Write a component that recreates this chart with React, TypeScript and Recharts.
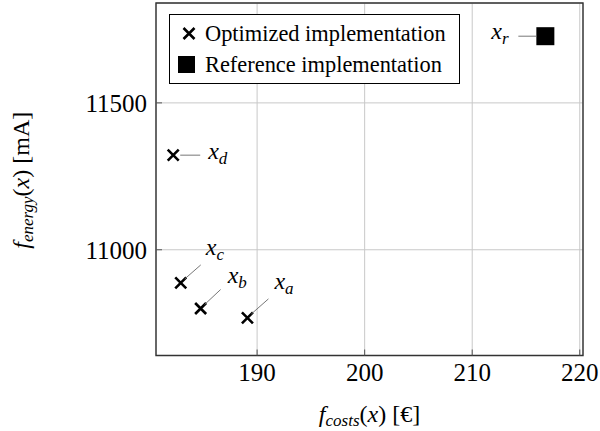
import { CartesianGrid, Legend, ReferenceArea, Scatter, ScatterChart, XAxis, YAxis } from 'recharts'

const optimizedNames = ['a', 'b', 'c', 'd']
const optimizedCosts = [189.1, 184.75, 182.9, 182.2]
const optimizedEnergy = [10768, 10800, 10887, 11322]

const referenceNames = ['r']
const referenceCosts = [216.8]
const referenceEnergy = [11727]

const xTicks = [190, 200, 210, 220]
const yTicks = [11000, 11500]
const xDomain = [180.6, 220.3]
const yDomain = [10640, 11840]

const optimized = optimizedNames.map((name, i) => ({ name, cost: optimizedCosts[i], energy: optimizedEnergy[i] }))
const reference = referenceNames.map((name, i) => ({ name, cost: referenceCosts[i], energy: referenceEnergy[i] }))

// annotation placement relative to the marker (pin line start, pin line end, text anchor)
const pins: Record<string, { l: [number, number, number, number]; t: [number, number] }> = {
  a: { l: [4, -4, 21, -19], t: [27, -29] },
  b: { l: [4, -4, 20, -19], t: [27, -26] },
  c: { l: [4, -4, 20, -18], t: [25, -28] },
  d: { l: [7, 0, 27, 0], t: [35, 4] },
  r: { l: [-9, 0, -27, 0], t: [-54, 3] }
}

const serif = 'Liberation Serif, Times New Roman, Tinos, DejaVu Serif, serif'
const tickStroke = '#555'

function Pin({ cx, cy, name }: { cx: number; cy: number; name: string }) {
  const p = pins[name]
  if (!p) return null
  return (
    <g>
      <line x1={cx + p.l[0]} y1={cy + p.l[1]} x2={cx + p.l[2]} y2={cy + p.l[3]} stroke="#777" strokeWidth={1} />
      <text x={cx + p.t[0]} y={cy + p.t[1]} style={{ fontFamily: serif }} fontSize={24} fill="#000">
        <tspan fontStyle="italic">x</tspan>
        <tspan fontStyle="italic" fontSize={17} dy={5}>{name}</tspan>
      </text>
    </g>
  )
}

function Cross(props: any) {
  const { cx, cy, payload } = props
  const s = 5.5
  return (
    <g>
      <path d={`M${cx - s},${cy - s}L${cx + s},${cy + s}M${cx - s},${cy + s}L${cx + s},${cy - s}`} stroke="#000" strokeWidth={2.6} />
      <Pin cx={cx} cy={cy} name={payload.name} />
    </g>
  )
}

function Square(props: any) {
  const { cx, cy, payload } = props
  const s = 9
  return (
    <g>
      <rect x={cx - s} y={cy - s} width={2 * s} height={2 * s} fill="#000" />
      <Pin cx={cx} cy={cy} name={payload.name} />
    </g>
  )
}

function LegendBox() {
  return (
    <div style={{ border: '1px solid #000', background: '#fff', width: 291, height: 70, boxSizing: 'border-box', fontFamily: serif, fontSize: 22.4, padding: '3px 0 0 6px', lineHeight: '31px', textAlign: 'left', whiteSpace: 'nowrap' }}>
      <div style={{ display: 'flex', alignItems: 'center' }}>
        <svg width={29} height={31}>
          <path d="M7.5,10L18.5,21M7.5,21L18.5,10" stroke="#000" strokeWidth={2.6} />
        </svg>
        <span>Optimized implementation</span>
      </div>
      <div style={{ display: 'flex', alignItems: 'center' }}>
        <svg width={29} height={31}>
          <rect x={2} y={7} width={17} height={17} fill="#000" />
        </svg>
        <span>Reference implementation</span>
      </div>
    </div>
  )
}

function YLabel(props: any) {
  const { viewBox } = props
  const cy = viewBox.y + viewBox.height / 2 + 1
  return (
    <text transform={`translate(29,${cy}) rotate(-90)`} textAnchor="middle" style={{ fontFamily: serif }} fontSize={24} fill="#000">
      <tspan fontStyle="italic">f</tspan>
      <tspan fontStyle="italic" fontSize={17} dy={4}>energy</tspan>
      <tspan dy={-4}>(</tspan>
      <tspan fontStyle="italic">x</tspan>
      <tspan>) [mA]</tspan>
    </text>
  )
}

function XLabel(props: any) {
  const { viewBox } = props
  const cx = viewBox.x + viewBox.width / 2
  return (
    <text x={cx} y={422} textAnchor="middle" style={{ fontFamily: serif }} fontSize={24} fill="#000">
      <tspan fontStyle="italic">f</tspan>
      <tspan fontStyle="italic" fontSize={17} dy={4}>costs</tspan>
      <tspan dy={-4}>(</tspan>
      <tspan fontStyle="italic">x</tspan>
      <tspan>) [€]</tspan>
    </text>
  )
}

const noLabel = () => ''

export default function App() {
  return (
    <div style={{ position: 'absolute', left: 0, top: 0, background: '#fff', fontFamily: serif }}>
      <ScatterChart width={600} height={431} margin={{ top: 3, right: 17, bottom: 0, left: 0 }} style={{ fontFamily: serif }}>
        <CartesianGrid stroke="#c8c8c8" strokeWidth={1} />
        <XAxis
          type="number"
          dataKey="cost"
          domain={xDomain}
          ticks={xTicks}
          allowDataOverflow
          height={75.5}
          axisLine={false}
          tickSize={-6}
          tickMargin={14}
          tickLine={{ stroke: tickStroke }}
          tick={{ fontSize: 25, fill: '#000', dy: 0, style: { fontFamily: serif } }}
          label={<XLabel />}
        />
        <XAxis
          xAxisId="top"
          orientation="top"
          type="number"
          dataKey="cost"
          domain={xDomain}
          ticks={xTicks}
          allowDataOverflow
          height={0}
          axisLine={false}
          tickSize={-6}
          tickLine={{ stroke: tickStroke }}
          tickFormatter={noLabel}
        />
        <YAxis
          type="number"
          dataKey="energy"
          domain={yDomain}
          ticks={yTicks}
          allowDataOverflow
          width={156}
          axisLine={false}
          tickSize={-6}
          tickMargin={14}
          tickLine={{ stroke: tickStroke }}
          tick={{ fontSize: 25, fill: '#000', dx: -1, style: { fontFamily: serif } }}
          label={<YLabel />}
        />
        <YAxis
          yAxisId="right"
          orientation="right"
          type="number"
          dataKey="energy"
          domain={yDomain}
          ticks={yTicks}
          allowDataOverflow
          width={0}
          axisLine={false}
          tickSize={-6}
          tickLine={{ stroke: tickStroke }}
          tickFormatter={noLabel}
        />
        <ReferenceArea x1={xDomain[0]} x2={xDomain[1]} y1={yDomain[0]} y2={yDomain[1]} fill="none" stroke="#333" strokeWidth={1.4} fillOpacity={0} />
        <Legend content={<LegendBox />} layout="vertical" verticalAlign="middle" align="center" wrapperStyle={{ left: 169, top: 14, width: 291 }} />
        <Scatter name="Optimized implementation" data={optimized} shape={<Cross />} isAnimationActive={false} />
        <Scatter name="Reference implementation" data={reference} shape={<Square />} isAnimationActive={false} />
      </ScatterChart>
    </div>
  )
}
